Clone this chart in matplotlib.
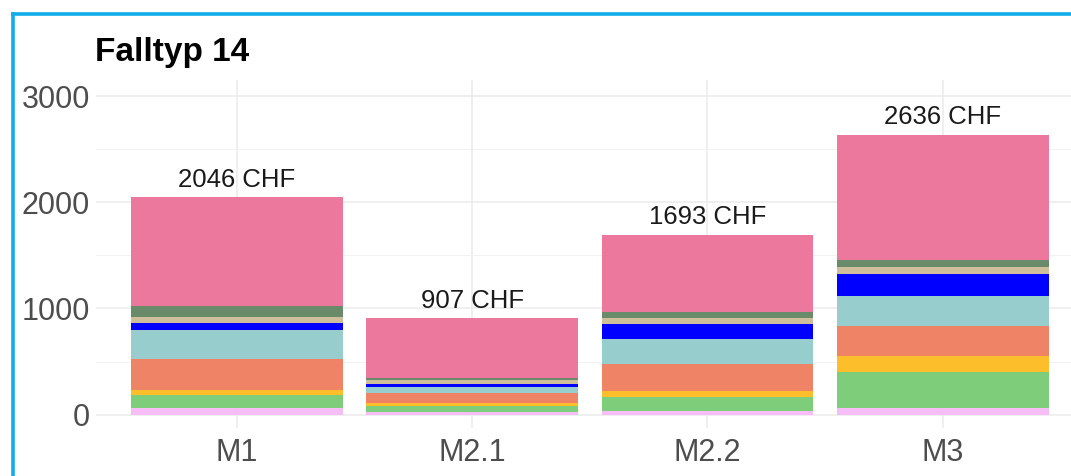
import matplotlib.pyplot as plt
from matplotlib.lines import Line2D
import numpy as np

# Kosten je Modell, gestapelt von unten nach oben
models = ['M1', 'M2.1', 'M2.2', 'M3']
totals = [2046, 907, 1693, 2636]

layer_lightpink = [63, 25, 38, 59]
layer_green = [122, 57, 125, 343]
layer_yellow = [50, 31, 63, 153]
layer_orange = [289, 87, 254, 279]
layer_teal = [269, 57, 235, 283]
layer_blue = [74, 37, 138, 207]
layer_tan = [55, 32, 57, 62]
layer_darkgreen = [103, 19, 59, 66]
layer_pink = [1021, 562, 724, 1184]

layers = [layer_lightpink, layer_green, layer_yellow, layer_orange, layer_teal,
          layer_blue, layer_tan, layer_darkgreen, layer_pink]
colors = ['#F7BDF7', '#7ECD7A', '#FDBE2C', '#EE8365', '#97CDCC',
          '#0000FF', '#CFBE9B', '#6A8B6A', '#EC789E']

plt.rcParams['font.family'] = ['Liberation Sans', 'DejaVu Sans']

fig = plt.figure(figsize=(10.71, 4.76), dpi=100)
ax = fig.add_axes([0.0894, 0.1008, 0.9227, 0.731])

x = np.arange(1, len(models) + 1)
bottom = np.zeros(len(models))
for vals, col in zip(layers, colors):
    ax.bar(x, vals, width=0.9, bottom=bottom, color=col, linewidth=0, zorder=2)
    bottom += np.array(vals)

for xi, top, tot in zip(x, bottom, totals):
    ax.annotate(f'{tot} CHF', (xi, top), xytext=(0, 7.5), textcoords='offset points',
                ha='center', va='baseline', fontsize=18.5, color='#1A1A1A')

ax.set_xlim(0.4, 4.6)
ax.set_ylim(-125, 3150)
ax.set_xticks(x)
ax.set_xticklabels(models)
ax.set_yticks([0, 1000, 2000, 3000])
ax.set_yticks([500, 1500, 2500], minor=True)

ax.grid(True, which='major', color='#EBEBEB', linewidth=1.1, zorder=0)
ax.grid(True, which='minor', axis='y', color='#F2F2F2', linewidth=0.7, zorder=0)
ax.set_axisbelow(True)
for s in ax.spines.values():
    s.set_visible(False)
ax.tick_params(axis='both', which='both', length=0, labelsize=22, labelcolor='#4D4D4D')
ax.tick_params(axis='x', pad=7.5)
ax.tick_params(axis='y', pad=4)

fig.text(95 / 1071, 1 - 61 / 476, 'Falltyp 14', fontsize=24, fontweight='bold',
         ha='left', va='baseline', color='black')

# blauer Rahmen (links und oben)
bx = 12.5 / 1071
by = 1 - 13.8 / 476
fig.add_artist(Line2D([bx, bx], [0, by], color='#12ACE8', linewidth=2.6,
                      transform=fig.transFigure, solid_capstyle='projecting'))
fig.add_artist(Line2D([bx, 1.0], [by, by], color='#12ACE8', linewidth=2.6,
                      transform=fig.transFigure, solid_capstyle='projecting'))

fig.savefig('out.png', dpi=100)
